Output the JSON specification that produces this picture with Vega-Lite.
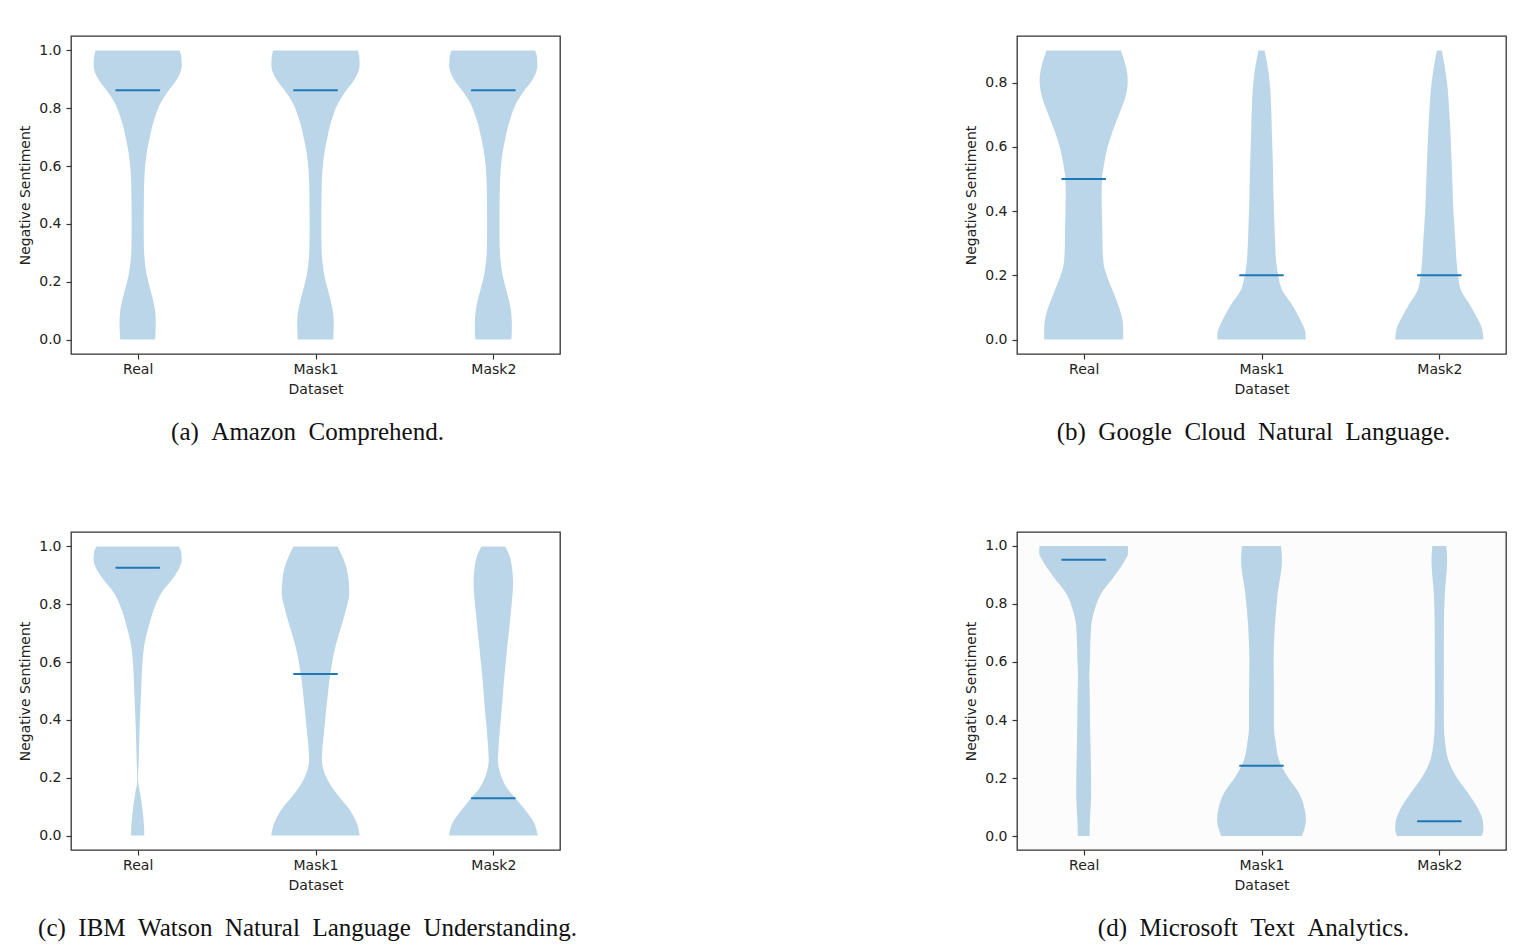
{
  "$schema": "https://vega.github.io/schema/vega-lite/v6.json",
  "background": "white",
  "padding": {"left": 18, "top": 35, "right": 0, "bottom": 0},
  "columns": 2,
  "spacing": {"column": 386, "row": 85},
  "datasets": {
    "violins": [
      {"api":"a","ds":"Real","v":0.00,"w":0.098},{"api":"a","ds":"Real","v":0.03,"w":0.101},{"api":"a","ds":"Real","v":0.06,"w":0.102},{"api":"a","ds":"Real","v":0.10,"w":0.098},{"api":"a","ds":"Real","v":0.14,"w":0.085},{"api":"a","ds":"Real","v":0.18,"w":0.068},{"api":"a","ds":"Real","v":0.22,"w":0.052},{"api":"a","ds":"Real","v":0.27,"w":0.040},{"api":"a","ds":"Real","v":0.32,"w":0.035},{"api":"a","ds":"Real","v":0.40,"w":0.034},{"api":"a","ds":"Real","v":0.50,"w":0.035},{"api":"a","ds":"Real","v":0.55,"w":0.037},{"api":"a","ds":"Real","v":0.60,"w":0.042},{"api":"a","ds":"Real","v":0.65,"w":0.052},{"api":"a","ds":"Real","v":0.70,"w":0.068},{"api":"a","ds":"Real","v":0.74,"w":0.083},{"api":"a","ds":"Real","v":0.77,"w":0.098},{"api":"a","ds":"Real","v":0.80,"w":0.115},{"api":"a","ds":"Real","v":0.83,"w":0.140},{"api":"a","ds":"Real","v":0.86,"w":0.172},{"api":"a","ds":"Real","v":0.89,"w":0.210},{"api":"a","ds":"Real","v":0.92,"w":0.238},{"api":"a","ds":"Real","v":0.95,"w":0.248},{"api":"a","ds":"Real","v":0.98,"w":0.245},{"api":"a","ds":"Real","v":1.00,"w":0.236},
      {"api":"a","ds":"Mask1","v":0.00,"w":0.100},{"api":"a","ds":"Mask1","v":0.03,"w":0.102},{"api":"a","ds":"Mask1","v":0.06,"w":0.103},{"api":"a","ds":"Mask1","v":0.10,"w":0.097},{"api":"a","ds":"Mask1","v":0.14,"w":0.083},{"api":"a","ds":"Mask1","v":0.18,"w":0.066},{"api":"a","ds":"Mask1","v":0.22,"w":0.050},{"api":"a","ds":"Mask1","v":0.27,"w":0.039},{"api":"a","ds":"Mask1","v":0.32,"w":0.034},{"api":"a","ds":"Mask1","v":0.40,"w":0.033},{"api":"a","ds":"Mask1","v":0.50,"w":0.034},{"api":"a","ds":"Mask1","v":0.55,"w":0.036},{"api":"a","ds":"Mask1","v":0.60,"w":0.041},{"api":"a","ds":"Mask1","v":0.65,"w":0.051},{"api":"a","ds":"Mask1","v":0.70,"w":0.067},{"api":"a","ds":"Mask1","v":0.74,"w":0.082},{"api":"a","ds":"Mask1","v":0.77,"w":0.097},{"api":"a","ds":"Mask1","v":0.80,"w":0.114},{"api":"a","ds":"Mask1","v":0.83,"w":0.139},{"api":"a","ds":"Mask1","v":0.86,"w":0.171},{"api":"a","ds":"Mask1","v":0.89,"w":0.209},{"api":"a","ds":"Mask1","v":0.92,"w":0.237},{"api":"a","ds":"Mask1","v":0.95,"w":0.248},{"api":"a","ds":"Mask1","v":0.98,"w":0.246},{"api":"a","ds":"Mask1","v":1.00,"w":0.238},
      {"api":"a","ds":"Mask2","v":0.00,"w":0.101},{"api":"a","ds":"Mask2","v":0.03,"w":0.104},{"api":"a","ds":"Mask2","v":0.06,"w":0.104},{"api":"a","ds":"Mask2","v":0.10,"w":0.099},{"api":"a","ds":"Mask2","v":0.14,"w":0.086},{"api":"a","ds":"Mask2","v":0.18,"w":0.069},{"api":"a","ds":"Mask2","v":0.22,"w":0.053},{"api":"a","ds":"Mask2","v":0.27,"w":0.041},{"api":"a","ds":"Mask2","v":0.32,"w":0.036},{"api":"a","ds":"Mask2","v":0.40,"w":0.035},{"api":"a","ds":"Mask2","v":0.50,"w":0.036},{"api":"a","ds":"Mask2","v":0.55,"w":0.038},{"api":"a","ds":"Mask2","v":0.60,"w":0.043},{"api":"a","ds":"Mask2","v":0.65,"w":0.053},{"api":"a","ds":"Mask2","v":0.70,"w":0.069},{"api":"a","ds":"Mask2","v":0.74,"w":0.084},{"api":"a","ds":"Mask2","v":0.77,"w":0.099},{"api":"a","ds":"Mask2","v":0.80,"w":0.116},{"api":"a","ds":"Mask2","v":0.83,"w":0.141},{"api":"a","ds":"Mask2","v":0.86,"w":0.173},{"api":"a","ds":"Mask2","v":0.89,"w":0.211},{"api":"a","ds":"Mask2","v":0.92,"w":0.238},{"api":"a","ds":"Mask2","v":0.95,"w":0.248},{"api":"a","ds":"Mask2","v":0.98,"w":0.245},{"api":"a","ds":"Mask2","v":1.00,"w":0.235},

      {"api":"b","ds":"Real","v":0.000,"w":0.222},{"api":"b","ds":"Real","v":0.038,"w":0.222},{"api":"b","ds":"Real","v":0.080,"w":0.210},{"api":"b","ds":"Real","v":0.132,"w":0.178},{"api":"b","ds":"Real","v":0.184,"w":0.140},{"api":"b","ds":"Real","v":0.236,"w":0.112},{"api":"b","ds":"Real","v":0.290,"w":0.106},{"api":"b","ds":"Real","v":0.339,"w":0.105},{"api":"b","ds":"Real","v":0.443,"w":0.101},{"api":"b","ds":"Real","v":0.500,"w":0.103},{"api":"b","ds":"Real","v":0.547,"w":0.115},{"api":"b","ds":"Real","v":0.599,"w":0.134},{"api":"b","ds":"Real","v":0.650,"w":0.164},{"api":"b","ds":"Real","v":0.702,"w":0.200},{"api":"b","ds":"Real","v":0.754,"w":0.234},{"api":"b","ds":"Real","v":0.806,"w":0.248},{"api":"b","ds":"Real","v":0.858,"w":0.234},{"api":"b","ds":"Real","v":0.900,"w":0.209},
      {"api":"b","ds":"Mask1","v":0.000,"w":0.248},{"api":"b","ds":"Mask1","v":0.018,"w":0.248},{"api":"b","ds":"Mask1","v":0.038,"w":0.238},{"api":"b","ds":"Mask1","v":0.070,"w":0.210},{"api":"b","ds":"Mask1","v":0.111,"w":0.169},{"api":"b","ds":"Mask1","v":0.153,"w":0.117},{"api":"b","ds":"Mask1","v":0.200,"w":0.094},{"api":"b","ds":"Mask1","v":0.236,"w":0.084},{"api":"b","ds":"Mask1","v":0.339,"w":0.074},{"api":"b","ds":"Mask1","v":0.443,"w":0.068},{"api":"b","ds":"Mask1","v":0.547,"w":0.064},{"api":"b","ds":"Mask1","v":0.650,"w":0.058},{"api":"b","ds":"Mask1","v":0.754,"w":0.052},{"api":"b","ds":"Mask1","v":0.806,"w":0.045},{"api":"b","ds":"Mask1","v":0.858,"w":0.032},{"api":"b","ds":"Mask1","v":0.900,"w":0.017},
      {"api":"b","ds":"Mask2","v":0.000,"w":0.248},{"api":"b","ds":"Mask2","v":0.038,"w":0.238},{"api":"b","ds":"Mask2","v":0.070,"w":0.210},{"api":"b","ds":"Mask2","v":0.111,"w":0.169},{"api":"b","ds":"Mask2","v":0.153,"w":0.122},{"api":"b","ds":"Mask2","v":0.200,"w":0.105},{"api":"b","ds":"Mask2","v":0.236,"w":0.098},{"api":"b","ds":"Mask2","v":0.318,"w":0.089},{"api":"b","ds":"Mask2","v":0.394,"w":0.080},{"api":"b","ds":"Mask2","v":0.498,"w":0.073},{"api":"b","ds":"Mask2","v":0.601,"w":0.066},{"api":"b","ds":"Mask2","v":0.702,"w":0.057},{"api":"b","ds":"Mask2","v":0.806,"w":0.042},{"api":"b","ds":"Mask2","v":0.858,"w":0.028},{"api":"b","ds":"Mask2","v":0.900,"w":0.014},

      {"api":"c","ds":"Real","v":0.000,"w":0.037},{"api":"c","ds":"Real","v":0.031,"w":0.036},{"api":"c","ds":"Real","v":0.089,"w":0.027},{"api":"c","ds":"Real","v":0.146,"w":0.014},{"api":"c","ds":"Real","v":0.193,"w":0.002},{"api":"c","ds":"Real","v":0.262,"w":0.006},{"api":"c","ds":"Real","v":0.377,"w":0.011},{"api":"c","ds":"Real","v":0.493,"w":0.019},{"api":"c","ds":"Real","v":0.608,"w":0.028},{"api":"c","ds":"Real","v":0.666,"w":0.039},{"api":"c","ds":"Real","v":0.723,"w":0.062},{"api":"c","ds":"Real","v":0.781,"w":0.090},{"api":"c","ds":"Real","v":0.839,"w":0.133},{"api":"c","ds":"Real","v":0.896,"w":0.206},{"api":"c","ds":"Real","v":0.926,"w":0.235},{"api":"c","ds":"Real","v":0.954,"w":0.248},{"api":"c","ds":"Real","v":0.980,"w":0.245},{"api":"c","ds":"Real","v":1.000,"w":0.232},
      {"api":"c","ds":"Mask1","v":0.000,"w":0.249},{"api":"c","ds":"Mask1","v":0.043,"w":0.232},{"api":"c","ds":"Mask1","v":0.089,"w":0.192},{"api":"c","ds":"Mask1","v":0.146,"w":0.117},{"api":"c","ds":"Mask1","v":0.204,"w":0.059},{"api":"c","ds":"Mask1","v":0.262,"w":0.036},{"api":"c","ds":"Mask1","v":0.377,"w":0.051},{"api":"c","ds":"Mask1","v":0.493,"w":0.070},{"api":"c","ds":"Mask1","v":0.550,"w":0.081},{"api":"c","ds":"Mask1","v":0.608,"w":0.096},{"api":"c","ds":"Mask1","v":0.666,"w":0.117},{"api":"c","ds":"Mask1","v":0.723,"w":0.145},{"api":"c","ds":"Mask1","v":0.781,"w":0.171},{"api":"c","ds":"Mask1","v":0.839,"w":0.190},{"api":"c","ds":"Mask1","v":0.896,"w":0.184},{"api":"c","ds":"Mask1","v":0.954,"w":0.159},{"api":"c","ds":"Mask1","v":1.000,"w":0.124},
      {"api":"c","ds":"Mask2","v":0.000,"w":0.249},{"api":"c","ds":"Mask2","v":0.043,"w":0.230},{"api":"c","ds":"Mask2","v":0.089,"w":0.178},{"api":"c","ds":"Mask2","v":0.129,"w":0.125},{"api":"c","ds":"Mask2","v":0.158,"w":0.084},{"api":"c","ds":"Mask2","v":0.204,"w":0.045},{"api":"c","ds":"Mask2","v":0.262,"w":0.026},{"api":"c","ds":"Mask2","v":0.320,"w":0.031},{"api":"c","ds":"Mask2","v":0.435,"w":0.047},{"api":"c","ds":"Mask2","v":0.550,"w":0.062},{"api":"c","ds":"Mask2","v":0.666,"w":0.081},{"api":"c","ds":"Mask2","v":0.781,"w":0.100},{"api":"c","ds":"Mask2","v":0.873,"w":0.111},{"api":"c","ds":"Mask2","v":0.954,"w":0.098},{"api":"c","ds":"Mask2","v":1.000,"w":0.067},

      {"api":"d","ds":"Real","v":0.000,"w":0.033},{"api":"d","ds":"Real","v":0.034,"w":0.034},{"api":"d","ds":"Real","v":0.149,"w":0.042},{"api":"d","ds":"Real","v":0.263,"w":0.040},{"api":"d","ds":"Real","v":0.378,"w":0.036},{"api":"d","ds":"Real","v":0.493,"w":0.034},{"api":"d","ds":"Real","v":0.550,"w":0.032},{"api":"d","ds":"Real","v":0.607,"w":0.035},{"api":"d","ds":"Real","v":0.722,"w":0.042},{"api":"d","ds":"Real","v":0.779,"w":0.061},{"api":"d","ds":"Real","v":0.836,"w":0.098},{"api":"d","ds":"Real","v":0.893,"w":0.169},{"api":"d","ds":"Real","v":0.951,"w":0.232},{"api":"d","ds":"Real","v":0.975,"w":0.250},{"api":"d","ds":"Real","v":1.000,"w":0.248},
      {"api":"d","ds":"Mask1","v":0.000,"w":0.227},{"api":"d","ds":"Mask1","v":0.023,"w":0.240},{"api":"d","ds":"Mask1","v":0.057,"w":0.250},{"api":"d","ds":"Mask1","v":0.092,"w":0.243},{"api":"d","ds":"Mask1","v":0.149,"w":0.210},{"api":"d","ds":"Mask1","v":0.206,"w":0.145},{"api":"d","ds":"Mask1","v":0.242,"w":0.112},{"api":"d","ds":"Mask1","v":0.263,"w":0.098},{"api":"d","ds":"Mask1","v":0.321,"w":0.080},{"api":"d","ds":"Mask1","v":0.378,"w":0.070},{"api":"d","ds":"Mask1","v":0.493,"w":0.070},{"api":"d","ds":"Mask1","v":0.607,"w":0.068},{"api":"d","ds":"Mask1","v":0.722,"w":0.075},{"api":"d","ds":"Mask1","v":0.836,"w":0.091},{"api":"d","ds":"Mask1","v":0.951,"w":0.115},{"api":"d","ds":"Mask1","v":1.000,"w":0.110},
      {"api":"d","ds":"Mask2","v":0.000,"w":0.237},{"api":"d","ds":"Mask2","v":0.023,"w":0.248},{"api":"d","ds":"Mask2","v":0.052,"w":0.245},{"api":"d","ds":"Mask2","v":0.092,"w":0.220},{"api":"d","ds":"Mask2","v":0.149,"w":0.160},{"api":"d","ds":"Mask2","v":0.206,"w":0.094},{"api":"d","ds":"Mask2","v":0.263,"w":0.050},{"api":"d","ds":"Mask2","v":0.321,"w":0.033},{"api":"d","ds":"Mask2","v":0.378,"w":0.026},{"api":"d","ds":"Mask2","v":0.493,"w":0.025},{"api":"d","ds":"Mask2","v":0.722,"w":0.026},{"api":"d","ds":"Mask2","v":0.836,"w":0.031},{"api":"d","ds":"Mask2","v":0.951,"w":0.044},{"api":"d","ds":"Mask2","v":1.000,"w":0.039}
    ],
    "medians": [
      {"api":"a","ds":"Real","m":0.862},{"api":"a","ds":"Mask1","m":0.862},{"api":"a","ds":"Mask2","m":0.862},
      {"api":"b","ds":"Real","m":0.5},{"api":"b","ds":"Mask1","m":0.2},{"api":"b","ds":"Mask2","m":0.2},
      {"api":"c","ds":"Real","m":0.926},{"api":"c","ds":"Mask1","m":0.559},{"api":"c","ds":"Mask2","m":0.129},
      {"api":"d","ds":"Real","m":0.952},{"api":"d","ds":"Mask1","m":0.242},{"api":"d","ds":"Mask2","m":0.051}
    ]
  },
  "concat": [
    {
      "width": 489, "height": 318,
      "title": {"text": "(a)\u00a0\u00a0Amazon\u00a0\u00a0Comprehend.", "orient": "bottom", "anchor": "middle", "dx": -8, "offset": 24},
      "layer": [
        {"data": {"name": "violins"},
         "transform": [{"filter": "datum.api == 'a'"}, {"calculate": "indexof(['Real','Mask1','Mask2'], datum.ds) + 1", "as": "pos"}, {"calculate": "datum.pos - datum.w", "as": "lo"}, {"calculate": "datum.pos + datum.w", "as": "hi"}],
         "mark": {"type": "area", "orient": "horizontal", "interpolate": "monotone", "color": "#1f77b4", "opacity": 0.3},
         "encoding": {
           "y": {"field": "v", "type": "quantitative", "title": "Negative Sentiment", "scale": {"domain": [-0.05, 1.05], "nice": false, "zero": false}, "axis": {"values": [0, 0.2, 0.4, 0.6, 0.8, 1.0], "format": ".1f"}},
           "x": {"field": "lo", "type": "quantitative", "title": "Dataset", "scale": {"domain": [0.625, 3.375], "nice": false, "zero": false}, "axis": {"values": [1, 2, 3], "labelExpr": "datum.value == 1 ? 'Real' : datum.value == 2 ? 'Mask1' : 'Mask2'"}},
           "x2": {"field": "hi"},
           "detail": {"field": "ds"}
         }},
        {"data": {"name": "medians"},
         "transform": [{"filter": "datum.api == 'a'"}, {"calculate": "indexof(['Real','Mask1','Mask2'], datum.ds) + 1", "as": "pos"}, {"calculate": "datum.pos - 0.125", "as": "lo"}, {"calculate": "datum.pos + 0.125", "as": "hi"}],
         "mark": {"type": "rule", "color": "#1f77b4", "strokeWidth": 2},
         "encoding": {
           "y": {"field": "m", "type": "quantitative", "title": "Negative Sentiment"},
           "x": {"field": "lo", "type": "quantitative", "title": "Dataset"},
           "x2": {"field": "hi"}
         }}
      ]
    },
    {
      "width": 489, "height": 318,
      "title": {"text": "(b)\u00a0\u00a0Google\u00a0\u00a0Cloud\u00a0\u00a0Natural\u00a0\u00a0Language.", "orient": "bottom", "anchor": "middle", "dx": -8, "offset": 24},
      "layer": [
        {"data": {"name": "violins"},
         "transform": [{"filter": "datum.api == 'b'"}, {"calculate": "indexof(['Real','Mask1','Mask2'], datum.ds) + 1", "as": "pos"}, {"calculate": "datum.pos - datum.w", "as": "lo"}, {"calculate": "datum.pos + datum.w", "as": "hi"}],
         "mark": {"type": "area", "orient": "horizontal", "interpolate": "monotone", "color": "#1f77b4", "opacity": 0.3},
         "encoding": {
           "y": {"field": "v", "type": "quantitative", "title": "Negative Sentiment", "scale": {"domain": [-0.045, 0.945], "nice": false, "zero": false}, "axis": {"values": [0, 0.2, 0.4, 0.6, 0.8], "format": ".1f"}},
           "x": {"field": "lo", "type": "quantitative", "title": "Dataset", "scale": {"domain": [0.625, 3.375], "nice": false, "zero": false}, "axis": {"values": [1, 2, 3], "labelExpr": "datum.value == 1 ? 'Real' : datum.value == 2 ? 'Mask1' : 'Mask2'"}},
           "x2": {"field": "hi"},
           "detail": {"field": "ds"}
         }},
        {"data": {"name": "medians"},
         "transform": [{"filter": "datum.api == 'b'"}, {"calculate": "indexof(['Real','Mask1','Mask2'], datum.ds) + 1", "as": "pos"}, {"calculate": "datum.pos - 0.125", "as": "lo"}, {"calculate": "datum.pos + 0.125", "as": "hi"}],
         "mark": {"type": "rule", "color": "#1f77b4", "strokeWidth": 2},
         "encoding": {
           "y": {"field": "m", "type": "quantitative", "title": "Negative Sentiment"},
           "x": {"field": "lo", "type": "quantitative", "title": "Dataset"},
           "x2": {"field": "hi"}
         }}
      ]
    },
    {
      "width": 489, "height": 318,
      "title": {"text": "(c)\u00a0\u00a0IBM\u00a0\u00a0Watson\u00a0\u00a0Natural\u00a0\u00a0Language\u00a0\u00a0Understanding.", "orient": "bottom", "anchor": "middle", "dx": -8, "offset": 24},
      "layer": [
        {"data": {"name": "violins"},
         "transform": [{"filter": "datum.api == 'c'"}, {"calculate": "indexof(['Real','Mask1','Mask2'], datum.ds) + 1", "as": "pos"}, {"calculate": "datum.pos - datum.w", "as": "lo"}, {"calculate": "datum.pos + datum.w", "as": "hi"}],
         "mark": {"type": "area", "orient": "horizontal", "interpolate": "monotone", "color": "#1f77b4", "opacity": 0.3},
         "encoding": {
           "y": {"field": "v", "type": "quantitative", "title": "Negative Sentiment", "scale": {"domain": [-0.05, 1.05], "nice": false, "zero": false}, "axis": {"values": [0, 0.2, 0.4, 0.6, 0.8, 1.0], "format": ".1f"}},
           "x": {"field": "lo", "type": "quantitative", "title": "Dataset", "scale": {"domain": [0.625, 3.375], "nice": false, "zero": false}, "axis": {"values": [1, 2, 3], "labelExpr": "datum.value == 1 ? 'Real' : datum.value == 2 ? 'Mask1' : 'Mask2'"}},
           "x2": {"field": "hi"},
           "detail": {"field": "ds"}
         }},
        {"data": {"name": "medians"},
         "transform": [{"filter": "datum.api == 'c'"}, {"calculate": "indexof(['Real','Mask1','Mask2'], datum.ds) + 1", "as": "pos"}, {"calculate": "datum.pos - 0.125", "as": "lo"}, {"calculate": "datum.pos + 0.125", "as": "hi"}],
         "mark": {"type": "rule", "color": "#1f77b4", "strokeWidth": 2},
         "encoding": {
           "y": {"field": "m", "type": "quantitative", "title": "Negative Sentiment"},
           "x": {"field": "lo", "type": "quantitative", "title": "Dataset"},
           "x2": {"field": "hi"}
         }}
      ]
    },
    {
      "width": 489, "height": 318,
      "view": {"fill": "#fcfcfc"},
      "title": {"text": "(d)\u00a0\u00a0Microsoft\u00a0\u00a0Text\u00a0\u00a0Analytics.", "orient": "bottom", "anchor": "middle", "dx": -8, "offset": 24},
      "layer": [
        {"data": {"name": "violins"},
         "transform": [{"filter": "datum.api == 'd'"}, {"calculate": "indexof(['Real','Mask1','Mask2'], datum.ds) + 1", "as": "pos"}, {"calculate": "datum.pos - datum.w", "as": "lo"}, {"calculate": "datum.pos + datum.w", "as": "hi"}],
         "mark": {"type": "area", "orient": "horizontal", "interpolate": "monotone", "color": "#1f77b4", "opacity": 0.3},
         "encoding": {
           "y": {"field": "v", "type": "quantitative", "title": "Negative Sentiment", "scale": {"domain": [-0.048, 1.048], "nice": false, "zero": false}, "axis": {"values": [0, 0.2, 0.4, 0.6, 0.8, 1.0], "format": ".1f"}},
           "x": {"field": "lo", "type": "quantitative", "title": "Dataset", "scale": {"domain": [0.625, 3.375], "nice": false, "zero": false}, "axis": {"values": [1, 2, 3], "labelExpr": "datum.value == 1 ? 'Real' : datum.value == 2 ? 'Mask1' : 'Mask2'"}},
           "x2": {"field": "hi"},
           "detail": {"field": "ds"}
         }},
        {"data": {"name": "medians"},
         "transform": [{"filter": "datum.api == 'd'"}, {"calculate": "indexof(['Real','Mask1','Mask2'], datum.ds) + 1", "as": "pos"}, {"calculate": "datum.pos - 0.125", "as": "lo"}, {"calculate": "datum.pos + 0.125", "as": "hi"}],
         "mark": {"type": "rule", "color": "#1f77b4", "strokeWidth": 2},
         "encoding": {
           "y": {"field": "m", "type": "quantitative", "title": "Negative Sentiment"},
           "x": {"field": "lo", "type": "quantitative", "title": "Dataset"},
           "x2": {"field": "hi"}
         }}
      ]
    }
  ],
  "config": {
    "view": {"stroke": "#333333", "strokeWidth": 1.3},
    "axis": {"grid": false, "domain": false, "ticks": true, "tickColor": "#333333", "tickSize": 5, "tickWidth": 1.2,
             "labelFont": "DejaVu Sans", "labelFontSize": 14, "labelColor": "#222222", "labelPadding": 5,
             "titleFont": "DejaVu Sans", "titleFontSize": 14, "titleFontWeight": "normal", "titleColor": "#222222", "titlePadding": 6},
    "axisX": {"labelPadding": 3},
    "title": {"font": "Liberation Serif", "fontSize": 25, "fontWeight": "normal", "color": "#111111"}
  }
}
